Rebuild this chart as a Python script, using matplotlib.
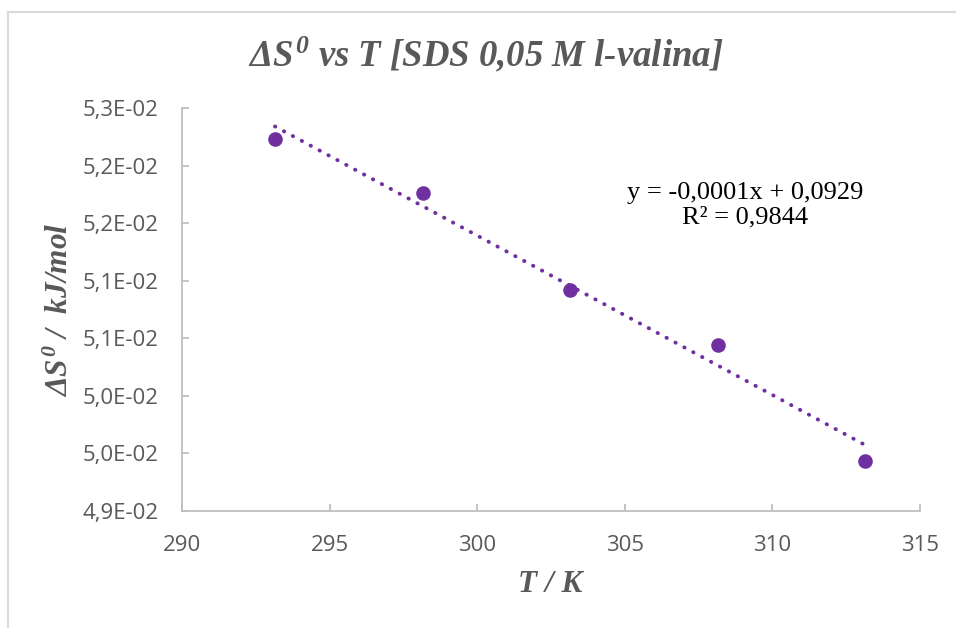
import numpy as np
import matplotlib
matplotlib.use("Agg")
import matplotlib.pyplot as plt
from matplotlib.lines import Line2D

# ---- data ----
temperatures = [293.15, 298.15, 303.15, 308.15, 313.15]
delta_s = [0.05223, 0.05176, 0.05092, 0.05044, 0.04943]
x_ticks = [290, 295, 300, 305, 310, 315]
x_tick_labels = ["290", "295", "300", "305", "310", "315"]
y_ticks = [0.0490, 0.0495, 0.0500, 0.0505, 0.0510, 0.0515, 0.0520, 0.0525]
y_tick_labels = ["4,9E-02", "5,0E-02", "5,0E-02", "5,1E-02", "5,1E-02",
                 "5,2E-02", "5,2E-02", "5,3E-02"]
title_text = r"$\Delta S^0$ vs T [SDS 0,05 M l-valina]"
ylabel_text = r"$\Delta S^0$ /  kJ/mol"
xlabel_text = "T / K"
equation_text = "y = -0,0001x + 0,0929\nR² = 0,9844"

# ---- style ----
purple = "#7030A0"
grey_text = "#595959"
axis_grey = "#BFBFBF"

plt.rcParams["mathtext.fontset"] = "custom"
plt.rcParams["mathtext.rm"] = "Liberation Serif:bold:italic"
plt.rcParams["mathtext.it"] = "Liberation Serif:bold:italic"
plt.rcParams["mathtext.bf"] = "Liberation Serif:bold:italic"

W, H = 956, 628
fig = plt.figure(figsize=(W / 100, H / 100), dpi=100)
ax = fig.add_axes([182 / W, 1 - 511 / H, (920 - 182) / W, (511 - 108) / H])

# points
ax.plot(temperatures, delta_s, linestyle="none", marker="o", markersize=10.5,
        color=purple, markeredgewidth=0, zorder=3)

# linear trendline computed from the data
coef = np.polyfit(temperatures, delta_s, 1)
tx = np.array([min(temperatures), max(temperatures)])
ax.plot(tx, np.polyval(coef, tx), color=purple, linewidth=2.8,
        linestyle=(0, (0.1, 2.5)), dash_capstyle="round", zorder=2)

ax.set_xlim(x_ticks[0], x_ticks[-1])
ax.set_ylim(y_ticks[0], y_ticks[-1])
ax.set_xticks(x_ticks)
ax.set_xticklabels(x_tick_labels)
ax.set_yticks(y_ticks)
ax.set_yticklabels(y_tick_labels)

for s in ["top", "right"]:
    ax.spines[s].set_visible(False)
for s in ["left", "bottom"]:
    ax.spines[s].set_color(axis_grey)
    ax.spines[s].set_linewidth(1.3)

ax.tick_params(axis="both", direction="in", length=5, width=1.3, color=axis_grey,
               labelcolor=grey_text)
ax.tick_params(axis="y", pad=17)
ax.tick_params(axis="x", pad=17)
for lab in ax.get_xticklabels() + ax.get_yticklabels():
    lab.set_fontfamily("Open Sans")
    lab.set_fontsize(16)

# texts
fig.text(486 / W, 1 - 55 / H, title_text, ha="center", va="center",
         fontsize=26.5, fontfamily="Liberation Serif", fontweight="bold",
         fontstyle="italic", color=grey_text)
fig.text(60 / W, 1 - 310 / H, ylabel_text, ha="center", va="center",
         rotation=90, fontsize=22.5, fontfamily="Liberation Serif",
         fontweight="bold", fontstyle="italic", color=grey_text)
fig.text(550 / W, 1 - 585 / H, xlabel_text, ha="center", va="center",
         fontsize=22.5, fontfamily="Liberation Serif", fontweight="bold",
         fontstyle="italic", color=grey_text)
fig.text(745 / W, 1 - 205 / H, equation_text, ha="center", va="center",
         multialignment="center", fontsize=19, fontfamily="Liberation Serif",
         color="black", linespacing=1.12)

# chart border (left and top visible)
fig.add_artist(Line2D([7.5 / W, 7.5 / W], [0, 1 - 11.5 / H], color="#D9D9D9",
                      linewidth=1.5, transform=fig.transFigure))
fig.add_artist(Line2D([7.5 / W, 1], [1 - 11.5 / H, 1 - 11.5 / H], color="#D9D9D9",
                      linewidth=1.5, transform=fig.transFigure))

fig.savefig("out.png", dpi=100)
